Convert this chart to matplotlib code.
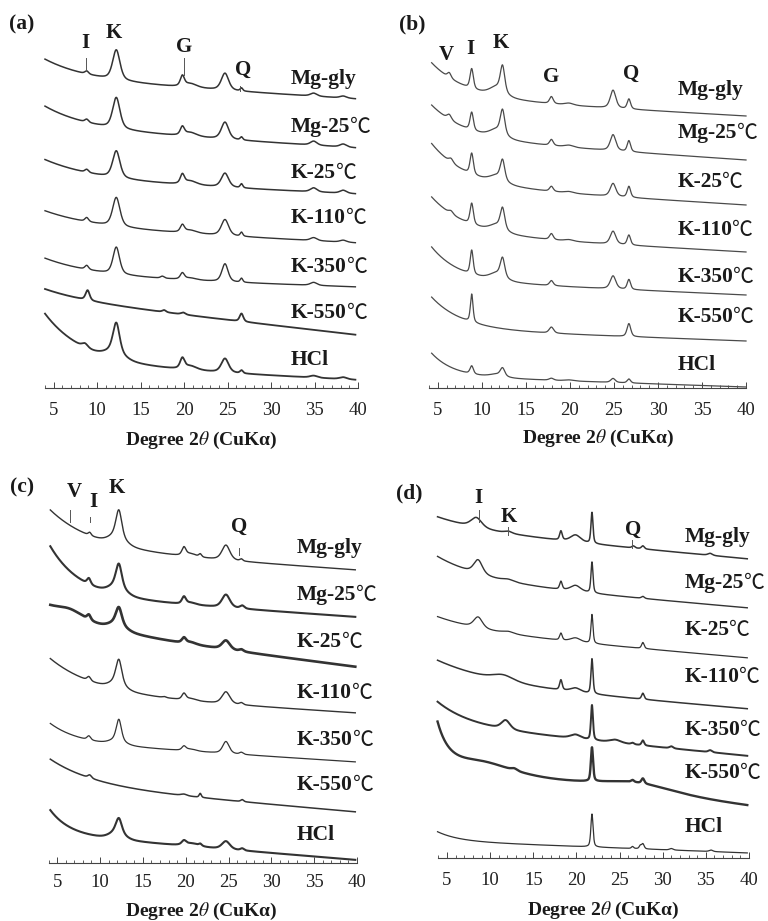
import numpy as np
import matplotlib
matplotlib.use("Agg")
import matplotlib.pyplot as plt
from matplotlib.ticker import MultipleLocator

plt.rcParams["font.family"] = ["Liberation Serif", "Noto Sans CJK SC", "DejaVu Sans"]
plt.rcParams["mathtext.fontset"] = "stix"

trace_labels = ["Mg-gly", "Mg-25℃", "K-25℃", "K-110℃", "K-350℃", "K-550℃", "HCl"]
x_ticks = [5, 10, 15, 20, 25, 30, 35, 40]

# background of each trace: (level at 40°, rise per degree, low-angle rise, its decay in degrees)
# peaks of each trace: (2θ, height, fwhm)
a_background = [(289, 0.55, 20, 5), (240, 0.55, 22, 5), (194, 0.40, 20, 6), (145, 0.45, 16, 6),
                (101, 0.30, 18, 6), (53, 1.00, 10, 5), (8, 0.45, 50, 4.5)]
a_peaks = [
    [(8.8, 3, 0.5), (12.2, 30, 1.0), (19.8, 10, 0.55), (20.7, 4, 1.8), (24.7, 17, 1.0), (26.6, 3, 0.35), (34.9, 3, 0.9), (38.3, 2, 0.9)],
    [(8.8, 3, 0.5), (12.2, 31, 1.0), (19.8, 8, 0.55), (20.7, 4, 1.8), (24.7, 17, 1.0), (26.6, 3, 0.35), (34.9, 4, 0.9), (38.3, 3, 0.9)],
    [(8.8, 3, 0.5), (12.2, 27, 1.0), (19.8, 9, 0.55), (20.7, 4, 1.8), (24.7, 14, 1.0), (26.6, 4, 0.35), (34.9, 4, 0.9), (38.3, 3, 0.9)],
    [(8.8, 4, 0.5), (12.2, 29, 1.0), (19.8, 7, 0.55), (20.7, 3, 1.8), (24.7, 16, 1.0), (26.6, 4, 0.35), (34.9, 3, 0.9), (38.3, 2, 0.9)],
    [(8.8, 4, 0.5), (12.2, 27, 0.9), (17.5, 2, 0.5), (19.8, 6, 0.55), (20.7, 2, 1.8), (24.7, 18, 0.85), (26.6, 4, 0.35), (34.9, 3, 0.9)],
    [(8.9, 10, 0.55), (17.7, 2, 0.5), (19.9, 2, 0.6), (26.6, 8, 0.5)],
    [(8.6, 4, 0.8), (12.0, 8, 2.5), (12.2, 29, 0.9), (19.8, 10, 0.6), (20.7, 4, 1.8), (24.7, 14, 1.0), (26.6, 3, 0.4), (34.9, 2, 1.0), (38.3, 2, 1.0)],
]

b_background = [(272, 0.50, 38, 4), (228, 0.60, 36, 4), (183, 0.55, 45, 4), (136, 0.50, 40, 4),
                (93, 0.40, 37, 3.2), (47, 0.33, 35, 3.5), (1, 0.30, 26, 2.5)]
b_peaks = [
    [(6.3, 5, 0.5), (8.85, 20, 0.45), (11.7, 9, 2.0), (12.35, 26, 0.6), (17.9, 7, 0.5), (19.9, 2, 1.2), (24.9, 18, 0.75), (26.7, 10, 0.45)],
    [(6.3, 5, 0.6), (8.85, 18, 0.45), (11.7, 8, 2.0), (12.35, 24, 0.6), (17.9, 6, 0.5), (19.9, 2, 1.2), (24.9, 16, 0.75), (26.7, 11, 0.45)],
    [(6.5, 4, 0.6), (8.85, 21, 0.45), (11.7, 7, 2.0), (12.35, 20, 0.6), (17.9, 5, 0.5), (19.9, 1.5, 1.2), (24.9, 13, 0.75), (26.7, 11, 0.45)],
    [(6.5, 3, 0.6), (8.85, 21, 0.45), (11.7, 7, 2.0), (12.35, 21, 0.6), (17.9, 6, 0.5), (19.9, 1.5, 1.2), (24.9, 13, 0.75), (26.7, 10, 0.45)],
    [(8.85, 24, 0.4), (11.7, 7, 2.0), (12.35, 19, 0.6), (17.9, 5, 0.5), (24.9, 13, 0.75), (26.7, 10, 0.45)],
    [(8.85, 28, 0.35), (17.9, 6, 0.6), (26.7, 13, 0.5)],
    [(8.85, 8, 0.45), (11.7, 3, 2.0), (12.35, 8, 0.6), (17.9, 2, 0.6), (19.9, 1, 1.2), (24.9, 4, 0.6), (26.7, 4, 0.45)],
]

c_background = [(293, 0.60, 40, 5), (246, 0.60, 52, 3.5), (196, 1.10, 20, 6), (150, 0.55, 36, 5.3),
                (101, 0.55, 20, 3.25), (51, 0.75, 27, 5.2), (3, 0.70, 27, 2.3)]
c_peaks = [
    [(8.8, 3, 0.4), (12.0, 10, 2.2), (12.2, 26, 0.8), (19.8, 8, 0.55), (20.6, 3, 1.5), (21.7, 3, 0.4), (24.7, 15, 1.1), (26.5, 2, 0.4)],
    [(8.7, 6, 0.5), (12.0, 10, 2.2), (12.2, 22, 0.8), (19.8, 7, 0.55), (20.6, 2, 1.5), (24.7, 13, 1.1), (26.6, 3, 0.6)],
    [(6.5, 8, 4.0), (8.7, 5, 0.5), (12.0, 8, 2.2), (12.2, 16, 0.8), (19.8, 5, 0.55), (20.6, 2, 1.5), (24.7, 9, 1.1), (26.5, 2, 0.6)],
    [(8.7, 4, 0.5), (12.0, 8, 2.0), (12.2, 23, 0.8), (17.5, 1, 0.5), (19.8, 6, 0.55), (20.6, 2, 1.5), (24.7, 12, 1.1), (26.5, 2, 0.5)],
    [(8.7, 4, 0.5), (12.0, 5, 2.0), (12.2, 21, 0.7), (19.8, 4, 0.55), (20.6, 2, 1.5), (24.7, 12, 0.9), (26.5, 2, 0.5)],
    [(8.8, 3, 0.5), (19.8, 1.5, 0.8), (21.7, 4, 0.3), (26.6, 2, 0.4)],
    [(12.0, 8, 2.0), (12.2, 14, 0.8), (19.8, 4, 0.6), (20.7, 3, 2.0), (21.7, 2, 0.4), (24.7, 8, 1.1), (26.6, 2, 0.5)],
]

d_background = [(299, 0.80, 13, 6), (250, 0.75, 24, 5.7), (200, 0.75, 14, 6), (149, 0.73, 22, 7),
                (102, 0.85, 23, 3.8), (52, 1.10, 38, 1.3), (5, 0.33, 9, 2.5)]
d_peaks = [
    [(8.4, 10, 1.5), (12.1, 2, 1.0), (18.2, 9, 0.35), (19.9, 7, 1.4), (21.8, 31, 0.28), (26.6, 2, 0.4), (27.7, 3, 0.4), (35.5, 2, 0.6)],
    [(8.6, 14, 1.2), (12.1, 2, 1.5), (18.2, 8, 0.35), (19.9, 6, 1.4), (21.8, 31, 0.28), (27.7, 2, 0.4)],
    [(8.6, 11, 1.2), (12.1, 2, 1.5), (18.2, 7, 0.35), (19.9, 4, 1.4), (21.8, 29, 0.28), (27.7, 6, 0.35)],
    [(11.5, 6, 3.0), (18.2, 10, 0.35), (19.9, 4, 1.4), (21.8, 35, 0.28), (27.7, 6, 0.35)],
    [(11.8, 9, 1.2), (19.9, 4, 1.4), (21.8, 35, 0.28), (24.5, 3, 1.5), (26.5, 1.5, 0.4), (27.7, 5, 0.35), (31.0, 2, 0.5), (35.5, 2, 0.5)],
    [(9.0, 10, 8.0), (27.0, 9, 10.0), (12.8, 2, 0.8), (21.8, 34, 0.3), (26.5, 2, 0.4), (27.7, 5, 0.4)],
    [(21.8, 33, 0.3), (26.5, 2, 0.3), (27.4, 3, 0.3), (27.7, 5, 0.35), (31.0, 1.5, 0.5), (35.6, 1.5, 0.5)],
]

# mineral peak marks: letter and 2θ
a_minerals = [("I", 8.7), ("K", 11.9), ("G", 20.0), ("Q", 26.8)]
b_minerals = [("V", 6.0), ("I", 8.7), ("K", 12.2), ("G", 17.9), ("Q", 27.0)]
c_minerals = [("V", 7.0), ("I", 9.2), ("K", 11.9), ("Q", 26.2)]
d_minerals = [("I", 8.6), ("K", 12.2), ("Q", 26.6)]


def profile(x, bg, peaks):
    end, slope, amp, decay = bg
    y = end + slope * (40 - x) + amp * np.exp(-(x - 4) / decay)
    for pos, h, w in peaks:
        d = (x - pos) / (w / 2)
        y = y + h * (0.5 / (1 + d ** 2) + 0.5 * np.exp(-np.log(2) * d ** 2))
    return y


W, H = 768, 921
fig = plt.figure(figsize=(W / 100, H / 100), dpi=100)

# layout in pixels: left, right, axis line y, top y
panels = [
    dict(name="(a)", box=(45, 358, 388, 10), bg=a_background, peaks=a_peaks, minerals=a_minerals,
         letter_y=[345, 355, 341, 318], marks=[(8.7, 318, 330), (20.0, 313, 330), (26.4, 297, 302)],
         label_x=32.3, label_y=[309, 261, 215, 170, 121, 75, 28],
         lw=[1.1, 1.1, 1.1, 1.0, 1.0, 1.3, 1.3], color="#333333",
         tag=(22, 24), xlab=(201, 440), pad=10, xr=(4.0, 39.7)),
    dict(name="(b)", box=(429, 746, 388, 10), bg=b_background, peaks=b_peaks, minerals=b_minerals,
         letter_y=[333, 339, 345, 311, 314], marks=[],
         label_x=32.2, label_y=[298, 255, 206, 158, 111, 71, 23],
         lw=[0.9] * 7, color="#4a4a4a",
         tag=(412, 24), xlab=(598, 438), pad=10, xr=(4.3, 40.0)),
    dict(name="(c)", box=(48.6, 357, 863, 470), bg=c_background, peaks=c_peaks, minerals=c_minerals,
         letter_y=[371, 361, 375, 336], marks=[(6.5, 341, 353), (8.8, 341, 346), (26.2, 308, 315)],
         label_x=33.0, label_y=[315, 268, 221, 170, 123, 78, 28],
         lw=[1.0, 1.5, 1.9, 1.0, 0.9, 1.1, 1.5], color="#333333",
         tag=(22, 487), xlab=(201, 911), pad=8, xr=(4.2, 39.8)),
    dict(name="(d)", box=(438.4, 749, 858, 470), bg=d_background, peaks=d_peaks, minerals=d_minerals,
         letter_y=[360, 341, 328], marks=[(8.7, 336, 348), (12.1, 323, 331), (26.4, 310, 318)],
         label_x=32.5, label_y=[321, 275, 228, 181, 128, 85, 31],
         lw=[1.1, 1.0, 0.9, 1.1, 1.4, 1.7, 0.9], color="#333333",
         tag=(409, 493), xlab=(603, 910), pad=10, xr=(3.9, 39.8)),
]

for p in panels:
    left, right, base, top = p["box"]
    ax = fig.add_axes([left / W, (H - base) / H, (right - left) / W, (base - top) / H])
    ax.set_xlim(4, 40)
    ax.set_ylim(0, base - top)

    x = np.linspace(p["xr"][0], p["xr"][1], 2000)
    for i, lab in enumerate(trace_labels):
        ax.plot(x, profile(x, p["bg"][i], p["peaks"][i]), color=p["color"], lw=p["lw"][i],
                clip_on=False)
        # bold sample name, the degree sign in a lighter face right after it
        name = lab.rstrip("℃")
        t = ax.text(p["label_x"], p["label_y"][i], name, ha="left", va="center", fontsize=15.5,
                    fontweight="bold", color="#1a1a1a", clip_on=False)
        if lab.endswith("℃"):
            ax.annotate("℃", xy=(1, 0.5), xycoords=t, ha="left", va="center", fontsize=15,
                        fontweight="normal", color="#1a1a1a",
                        family=["Noto Sans CJK SC", "DejaVu Sans"], annotation_clip=False)

    for (letter, pos), ly in zip(p["minerals"], p["letter_y"]):
        ax.text(pos, ly, letter, ha="center", va="center", fontsize=15, fontweight="bold",
                color="#1a1a1a", clip_on=False)
    for mx, y0, y1 in p["marks"]:
        ax.plot([mx, mx], [y0, y1], color="#555555", lw=0.7, clip_on=False)

    for s in ["left", "top", "right"]:
        ax.spines[s].set_visible(False)
    ax.spines["bottom"].set_color("#444444")
    ax.spines["bottom"].set_linewidth(0.8)
    ax.set_yticks([])
    ax.set_xticks(x_ticks)
    ax.xaxis.set_minor_locator(MultipleLocator(1))
    ax.tick_params(axis="x", which="major", direction="in", length=4, width=0.7,
                   color="#444444", labelsize=13.5, pad=p["pad"], labelcolor="#222222")
    ax.tick_params(axis="x", which="minor", direction="in", length=2.5, width=0.6,
                   color="#444444")
    ax.patch.set_alpha(0)

    fig.text(p["tag"][0] / W, 1 - p["tag"][1] / H, p["name"], ha="center", va="center",
             fontsize=15.5, fontweight="bold", color="#1a1a1a")
    fig.text(p["xlab"][0] / W, 1 - p["xlab"][1] / H, r"Degree 2$\theta$ (CuKα)", ha="center",
             va="center", fontsize=14, fontweight="bold", color="#1a1a1a")

fig.savefig("out.png", dpi=100, facecolor="white")
